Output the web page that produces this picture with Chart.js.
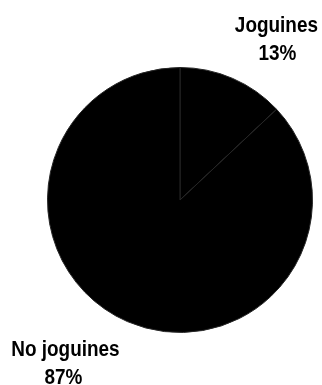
<!DOCTYPE html>
<html>
<head>
<meta charset="utf-8">
<script src="https://cdn.jsdelivr.net/npm/chart.js@4.4.1/dist/chart.umd.min.js"></script>
<style>
    html, body { margin: 0; padding: 0; background: #fff; }
    #wrap { width: 322px; height: 385px; }
</style>
</head>
<body>
<div id="wrap"><canvas id="pieChart" width="322" height="385"></canvas></div>
<script>
// Share of answers
const categories = ['Joguines', 'No joguines'];
const shares = [13, 87];
const sliceColors = ['#000000', '#000000'];

// condensed text: squeeze the glyphs horizontally around their centre
function narrowText(ctx, text, x, y, squeeze) {
    ctx.save();
    ctx.translate(x, y);
    ctx.scale(squeeze, 1);
    ctx.fillText(text, 0, 0);
    ctx.restore();
}

// Two-line labels (name + percent) placed outside each slice
const outsideLabels = {
    id: 'outsideLabels',
    afterDraw(chart, args, opts) {
        const ctx = chart.ctx;
        const meta = chart.getDatasetMeta(0);
        ctx.save();
        ctx.fillStyle = '#000';
        ctx.font = opts.font;
        ctx.textAlign = 'center';
        ctx.textBaseline = 'alphabetic';
        for (let i = 0; i < meta.data.length; i++) {
            const arc = meta.data[i];
            const place = opts.placement[i];
            const angle = (arc.startAngle + arc.endAngle) / 2 + place.turn * Math.PI / 180;
            const cx = arc.x + Math.cos(angle) * arc.outerRadius * place.dist;
            const cy = arc.y + Math.sin(angle) * arc.outerRadius * place.dist;
            const name = String(chart.data.labels[i]);
            const pct = String(chart.data.datasets[0].data[i]) + '%';
            narrowText(ctx, name, cx, cy - opts.lineGap / 2 + opts.capHalf, opts.squeeze);
            narrowText(ctx, pct, cx - place.shift, cy + opts.lineGap / 2 + opts.capHalf, opts.squeeze);
        }
        ctx.restore();
    }
};

new Chart(document.getElementById('pieChart').getContext('2d'), {
    type: 'pie',
    data: {
        labels: categories,
        datasets: [{
            data: shares,
            backgroundColor: sliceColors,
            borderColor: '#262626',
            borderWidth: 1
        }]
    },
    options: {
        responsive: false,
        animation: false,
        layout: {
            padding: { left: 47, right: 9, top: 67, bottom: 52 }
        },
        plugins: {
            legend: { display: false },
            tooltip: { enabled: false },
            outsideLabels: {
                font: 'bold 22px "Liberation Sans", Arial, sans-serif',
                squeeze: 0.86,
                lineGap: 28,
                capHalf: 8,
                placement: [
                    { turn: 7.3, dist: 1.425, shift: -1 },
                    { turn: 11.8, dist: 1.5, shift: 2 }
                ]
            }
        }
    },
    plugins: [outsideLabels]
});
</script>
</body>
</html>
